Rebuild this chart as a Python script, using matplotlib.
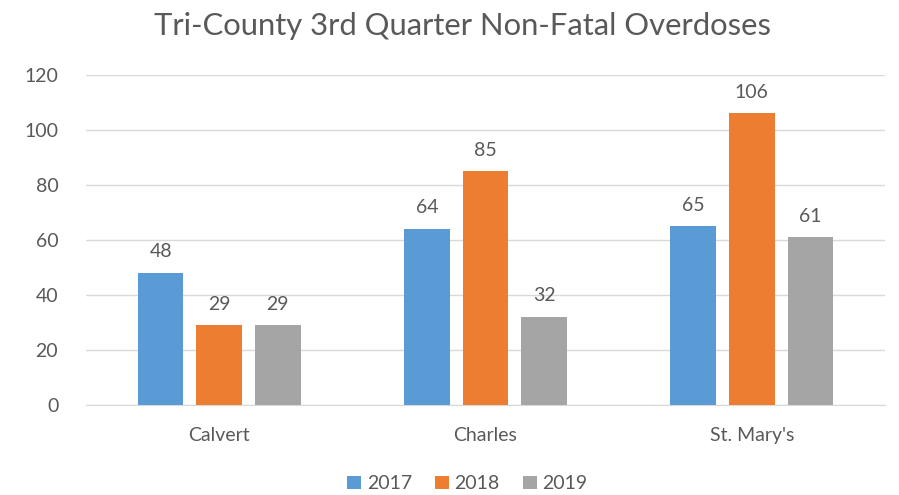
import numpy as np
from matplotlib import pyplot as plt

counties = ['Calvert', 'Charles', "St. Mary's"]
years = ['2017', '2018', '2019']
v2017 = [48, 64, 65]
v2018 = [29, 85, 106]
v2019 = [29, 32, 61]
colors = ['#5B9BD5', '#ED7D31', '#A5A5A5']

plt.rcParams['font.family'] = ['Lato', 'DejaVu Sans']
txt = '#595959'

fig = plt.figure(figsize=(8.99, 4.95), dpi=100)
ax = fig.add_axes([0.0957, 0.182, 0.8887, 0.667])

x = np.arange(len(counties))
w = 0.171
step = 0.22
for i, (vals, c, lab) in enumerate(zip([v2017, v2018, v2019], colors, years)):
    pos = x + (i - 1) * step
    ax.bar(pos, vals, width=w, color=c, label=lab, zorder=3)
    for p, v in zip(pos, vals):
        ax.annotate(str(v), (p, v), xytext=(0, 9), textcoords='offset points',
                    ha='center', va='bottom', fontsize=14, color=txt)

ax.set_xlim(-0.5, 2.5)
ax.set_ylim(0, 120)
ax.set_yticks(range(0, 121, 20))
ax.set_xticks(x)
ax.set_xticklabels(counties)
ax.grid(axis='y', color='#D9D9D9', linewidth=1, zorder=0)
for s in ['top', 'right', 'left']:
    ax.spines[s].set_visible(False)
ax.spines['bottom'].set_color('#D9D9D9')
ax.tick_params(length=0, labelsize=14, colors=txt, pad=16)
ax.tick_params(axis='y', pad=20)

fig.suptitle('Tri-County 3rd Quarter Non-Fatal Overdoses', fontsize=22.3, color=txt,
             x=0.515, y=0.975)
fig.legend(loc='lower center', ncol=3, frameon=False, fontsize=14, labelcolor=txt,
           bbox_to_anchor=(0.52, -0.03), handlelength=0.7, handleheight=0.7,
           handletextpad=0.3, columnspacing=1.2)

fig.savefig('out.png', dpi=100)
